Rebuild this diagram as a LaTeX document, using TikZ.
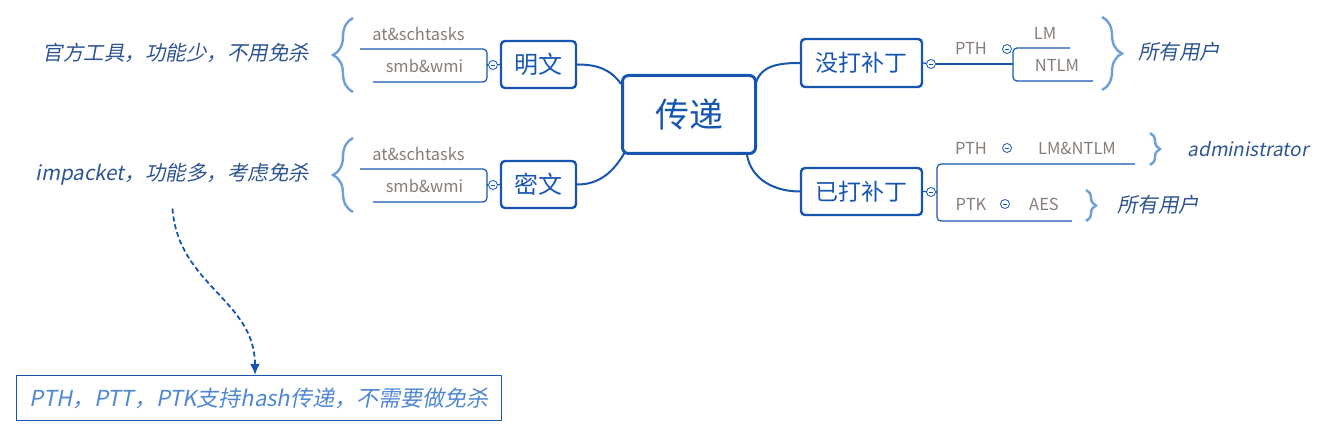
\documentclass[tikz,border=0pt]{standalone}
\usepackage{fontspec}
\setmainfont{Noto Sans CJK SC}
\newfontfamily\slantcjk[FakeSlant=0.2]{Noto Sans CJK SC}
\usetikzlibrary{positioning, decorations.pathreplacing, arrows.meta, calc}
\definecolor{topicblue}{RGB}{23,86,176}
\definecolor{braceblue}{RGB}{110,160,215}
\definecolor{leafgray}{RGB}{135,125,120}
\definecolor{noteblue}{RGB}{45,85,145}
\definecolor{hashblue}{RGB}{80,135,210}
\tikzset{
  topic/.style={draw=topicblue, text=topicblue, rounded corners=4pt, line width=2.4pt, inner sep=0pt},
  leaf/.style={text=leafgray, font=\fontsize{16.5}{18}\selectfont, inner sep=0pt},
  fold/.style={circle, draw=topicblue, line width=0.8pt, minimum size=9pt, inner sep=0pt, fill=white,
    path picture={\draw[topicblue, line width=0.8pt] ([xshift=-2.2pt]path picture bounding box.center) -- ([xshift=2.2pt]path picture bounding box.center);}},
  sub/.style={draw=topicblue, line width=1.2pt, rounded corners=4pt},
  branch/.style={draw=topicblue, line width=2pt},
  mbrace/.style={decorate, decoration={brace, amplitude=#1}, draw=braceblue, line width=2.4pt},
  note/.style={text=noteblue, font=\slantcjk\fontsize{20.5}{24}\selectfont}
}
\begin{document}
\begin{tikzpicture}[x=1pt, y=1pt]
			\useasboundingbox (0,0) rectangle (1343,-438);
			
			% topics
			\node[topic, line width=3pt, rounded corners=6pt, minimum width=133pt, minimum height=78pt, font=\fontsize{34}{40}\selectfont] (chuandi) at (689,-114.5) {传递};
			\node[topic, minimum width=75pt, minimum height=47pt, font=\fontsize{24}{28}\selectfont] (mingwen) at (538.5,-64.5) {明文};
			\node[topic, minimum width=75pt, minimum height=47pt, font=\fontsize{24}{28}\selectfont] (miwen) at (538.5,-184.5) {密文};
			\node[topic, minimum width=121pt, minimum height=48pt, font=\fontsize{23}{28}\selectfont] (meida) at (861.5,-63) {没打补丁};
			\node[topic, minimum width=121pt, minimum height=47pt, font=\fontsize{23}{28}\selectfont] (yida) at (861.5,-191.5) {已打补丁};
			
			\draw[branch] (mingwen.east) to[out=0,in=125] ([yshift=-10pt]chuandi.north west);
			\draw[branch] (miwen.east) to[out=0,in=-120] ([xshift=4pt,yshift=3pt]chuandi.south west);
			\draw[branch] ([xshift=-1pt,yshift=-9pt]chuandi.north east) to[out=75,in=180] (meida.west);
			\draw[branch] ([xshift=-10pt]chuandi.south east) to[out=-80,in=180] (yida.west);
			
			% mingwen
			\node[fold] (mwfold) at (493,-65) {};
			\draw[sub] (mwfold) -- (mingwen.west);
			\draw[sub] (360,-49) -- (487,-49) -- (487,-82) -- (373,-82);
			\draw[sub] (487,-65) -- (mwfold);
			\node[leaf] (mwat) at (418.5,-34) {at\&schtasks};
			\node[leaf] (mwsmb) at (424.5,-66) {smb\&wmi};
			\draw[mbrace=20pt] (353,-92) -- (353,-18);
			\node[note] (guanfang) at (176,-53) {官方工具，功能少，不用免杀};
			
			% miwen
			\node[fold] (mifold) at (493,-185) {};
			\draw[sub] (mifold) -- (miwen.west);
			\draw[sub] (360,-169) -- (487,-169) -- (487,-202) -- (373,-202);
			\draw[sub] (487,-185) -- (mifold);
			\node[leaf] (miat) at (418.5,-154) {at\&schtasks};
			\node[leaf] (mismb) at (424.5,-186) {smb\&wmi};
			\draw[mbrace=20pt] (353,-212) -- (353,-138);
			\node[note] (impacket) at (172.5,-174) {impacket，功能多，考虑免杀};
			
			% meida
			\node[fold] (mdfold) at (931,-64) {};
			\draw[sub] (meida.east) -- (mdfold);
			\draw[sub] (mdfold) -- (1013,-64);
			\draw[sub] (1070,-48) -- (1013,-48) -- (1013,-81) -- (1093,-81);
			\node[leaf] (mdpth) at (971,-48) {PTH};
			\node[fold] (mdpthfold) at (1007,-49) {};
			\node[leaf] (mdlm) at (1045,-33) {LM};
			\node[leaf] (mdntlm) at (1057,-65) {NTLM};
			\draw[mbrace=20pt] (1102,-17) -- (1102,-90);
			\node[note] (allusers) at (1179,-52) {所有用户};
			
			% yida
			\node[fold] (ydfold) at (931,-192) {};
			\draw[sub] (yida.east) -- (ydfold);
			\draw[sub] (ydfold) -- (937,-192);
			\draw[sub] (1135,-164) -- (937,-164) -- (937,-221) -- (1072,-221);
			\node[leaf] (ydpth) at (971,-148) {PTH};
			\node[fold] (ydpthfold) at (1007,-148) {};
			\node[leaf] (ydlm) at (1077,-148) {LM\&NTLM};
			\draw[mbrace=10pt] (1150,-133) -- (1150,-165);
			\node[note, font=\slantcjk\fontsize{19}{22}\selectfont] (admin) at (1248,-149) {administrator};
			\node[leaf] (ydptk) at (971,-204) {PTK};
			\node[fold] (ydptkfold) at (1005,-204) {};
			\node[leaf] (ydaes) at (1044,-204) {AES};
			\draw[mbrace=10pt] (1086,-190) -- (1086,-221);
			\node[note] (allusers2) at (1158,-205) {所有用户};
			
			% hash
			\node[draw=topicblue, line width=1.2pt, minimum width=485pt, minimum height=45pt, text=hashblue, font=\slantcjk\fontsize{22}{26}\selectfont] (hashbox) at (259,-398) {PTH，PTT，PTK支持hash传递，不需要做免杀};
			\draw[topicblue, line width=1.8pt, dash pattern=on 5pt off 3pt, -{Latex[length=11pt,width=10pt]}] ([yshift=-20pt]impacket.south) .. controls (178,-285) and (255,-300) .. ([xshift=-4pt]hashbox.north);
			\end{tikzpicture}
\end{document}
